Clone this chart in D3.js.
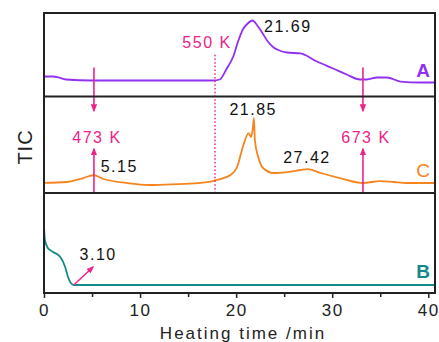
<!DOCTYPE html>
<html>
<head>
<meta charset="utf-8">
<script src="https://d3js.org/d3.v7.min.js"></script>
<style>
  body { margin: 0; background: #fff; }
  text { font-family: "Liberation Sans", Arial, sans-serif; }
</style>
</head>
<body>
<div id="chart"></div>
<script>
// heating time (min) vs relative TIC intensity (0-100 within each panel)
var curveA = [[0,20],[1,20],[1.5,18.7],[2.3,16],[5,14.7],[10,14.7],[17.6,14.7],[18.3,16],[19,30],[19.7,46.7],
  [20.2,66.7],[20.7,82.7],[21.2,90.7],[21.7,94.7],[22.2,88],[22.7,78.7],[23.3,66.7],[23.9,58.7],[24.5,54.7],
  [25.3,52],[26.7,50.7],[28.4,40],[30.1,30.7],[31.5,22.7],[32.9,16],[33.6,16],[34.7,18.7],[35.7,18.7],
  [37.1,13.3],[39.2,12],[40.7,12]];
var curveC = [[0,6.7],[2.4,8],[4.1,13.3],[5.15,17.3],[6.2,12],[8.6,6.7],[11,4],[14,5.3],[16.3,6.7],[17.6,9.3],
  [18,10.7],[19.4,17.3],[20.1,28],[20.7,54.7],[21.3,73.3],[21.55,68],[21.75,81.3],[21.85,93.3],[21.95,64],
  [22.3,41.3],[22.8,26.7],[23.9,20],[25.3,21.3],[26.7,24],[27.42,25.3],[28.8,20],[30.8,13.3],[33.2,6.7],
  [35,9.3],[36.4,8],[37.8,6.7],[40.7,6.7]];
var curveB = [[0,84],[0.05,70.7],[0.1,64],[0.4,53.3],[0.95,48],[1.7,41.3],[2.2,28],[2.5,14.7],[2.8,6.7],
  [3.1,4],[40.7,4]];

var seriesNames = ["A", "C", "B"];
var seriesColors = ["#9130ef", "#f5841f", "#138a8a"];
var xTicks = [0, 10, 20, 30, 40];
var xMinorTicks = [5, 15, 25, 35];

// peak labels: [time, panel index, value]
var peakLabels = [["21.69", 22.9, 0, 79], ["21.85", 19.3, 1, 97], ["27.42", 24.9, 1, 34], ["5.15", 5.9, 1, 21.5], ["3.10", 3.7, 2, 37]];
// temperature markers: time, label
var tempTimes = [5.2, 33.2];
var tempLabels = ["473 K", "673 K"];
var dottedTime = 17.8;
var dottedLabel = "550 K";

var W = 439, H = 342;
var left = 44, right = 435;
var panelEdges = [13, 96.5, 193, 293];

var svg = d3.select("#chart").append("svg")
  .attr("width", W).attr("height", H);

var x = d3.scaleLinear().domain([0, 40.7]).range([left, right]);
var yScales = [0, 1, 2].map(function(i) {
  var b = panelEdges[i + 1];
  return d3.scaleLinear().domain([0, 100]).range([b - 5, b - 80]);
});

var pink = "#ee2288";
svg.append("defs").append("marker")
  .attr("id", "head").attr("viewBox", "0 0 10 10")
  .attr("refX", 8).attr("refY", 5)
  .attr("markerWidth", 5).attr("markerHeight", 5)
  .attr("orient", "auto-start-reverse")
  .append("path").attr("d", "M0,1L10,5L0,9z").attr("fill", pink);

// curves
var curves = [curveA, curveC, curveB];
curves.forEach(function(data, i) {
  var line = d3.line()
    .x(function(d) { return x(d[0]); })
    .y(function(d) { return yScales[i](d[1]); })
    .curve(d3.curveMonotoneX);
  svg.append("path").datum(data)
    .attr("fill", "none")
    .attr("stroke", seriesColors[i])
    .attr("stroke-width", 1.8)
    .attr("d", line);
});

// dotted 550 K line
svg.append("line")
  .attr("x1", x(dottedTime)).attr("x2", x(dottedTime))
  .attr("y1", yScales[0](49)).attr("y2", panelEdges[2])
  .attr("stroke", pink).attr("stroke-width", 1.5)
  .attr("stroke-dasharray", "1.5,2.2");
svg.append("text")
  .attr("x", x(dottedTime) - 8).attr("y", 48)
  .attr("text-anchor", "middle")
  .attr("font-size", 16).attr("letter-spacing", 1.5)
  .attr("fill", pink).text(dottedLabel);

// temperature arrows
tempTimes.forEach(function(t, i) {
  var xp = x(t);
  svg.append("line")
    .attr("x1", xp).attr("x2", xp)
    .attr("y1", yScales[0](32)).attr("y2", yScales[1](103))
    .attr("stroke", pink).attr("stroke-width", 1.6)
    .attr("marker-end", "url(#head)");
  svg.append("line")
    .attr("x1", xp).attr("x2", xp)
    .attr("y1", panelEdges[2]).attr("y2", yScales[1](52))
    .attr("stroke", pink).attr("stroke-width", 1.6)
    .attr("marker-end", "url(#head)");
  svg.append("text")
    .attr("x", xp + 3).attr("y", 143)
    .attr("text-anchor", "middle")
    .attr("font-size", 16).attr("letter-spacing", 1.5)
    .attr("fill", pink).text(tempLabels[i]);
});

// 3.10 arrow
svg.append("line")
  .attr("x1", x(3.1)).attr("y1", yScales[2](4))
  .attr("x2", x(5.1)).attr("y2", yScales[2](28))
  .attr("stroke", pink).attr("stroke-width", 1.5)
  .attr("marker-end", "url(#head)");

// peak labels
peakLabels.forEach(function(p) {
  svg.append("text")
    .attr("x", x(p[1])).attr("y", yScales[p[2]](p[3]))
    .attr("font-size", 16).attr("letter-spacing", 1.5)
    .attr("fill", "#111").text(p[0]);
});

// series names
var nameY = [77, 177, 278];
seriesNames.forEach(function(n, i) {
  svg.append("text")
    .attr("x", 423).attr("y", nameY[i])
    .attr("text-anchor", "middle")
    .attr("font-size", n === "C" ? 19 : 19)
    .attr("font-weight", n === "C" ? "normal" : "bold")
    .attr("fill", seriesColors[i]).text(n);
});

// frame and dividers
svg.append("rect")
  .attr("x", left).attr("y", panelEdges[0])
  .attr("width", right - left).attr("height", panelEdges[3] - panelEdges[0])
  .attr("fill", "none").attr("stroke", "#222").attr("stroke-width", 2);
[panelEdges[1], panelEdges[2]].forEach(function(yy) {
  svg.append("line").attr("x1", left).attr("x2", right)
    .attr("y1", yy).attr("y2", yy)
    .attr("stroke", "#222").attr("stroke-width", 2);
});

// x axis
var ax = svg.append("g")
  .attr("transform", "translate(0," + panelEdges[3] + ")")
  .call(d3.axisBottom(x).tickValues(xTicks).tickSize(5).tickPadding(6));
ax.select(".domain").remove();
ax.selectAll("line").attr("stroke", "#222").attr("stroke-width", 1.5);
ax.selectAll("text").attr("font-size", 17).attr("letter-spacing", 1.5)
  .attr("fill", "#222").style("font-family", '"Liberation Sans", Arial, sans-serif');
var mx = svg.append("g")
  .attr("transform", "translate(0," + panelEdges[3] + ")")
  .call(d3.axisBottom(x).tickValues(xMinorTicks).tickSize(4).tickFormat(""));
mx.select(".domain").remove();
mx.selectAll("line").attr("stroke", "#222").attr("stroke-width", 1.5);

svg.append("text")
  .attr("x", 243).attr("y", 339)
  .attr("text-anchor", "middle")
  .attr("font-size", 17).attr("letter-spacing", 2)
  .attr("fill", "#222").text("Heating time /min");

svg.append("text")
  .attr("transform", "translate(32,147) rotate(-90)")
  .attr("text-anchor", "middle")
  .attr("font-size", 20).attr("letter-spacing", 1)
  .attr("fill", "#222").text("TIC");
</script>
</body>
</html>
